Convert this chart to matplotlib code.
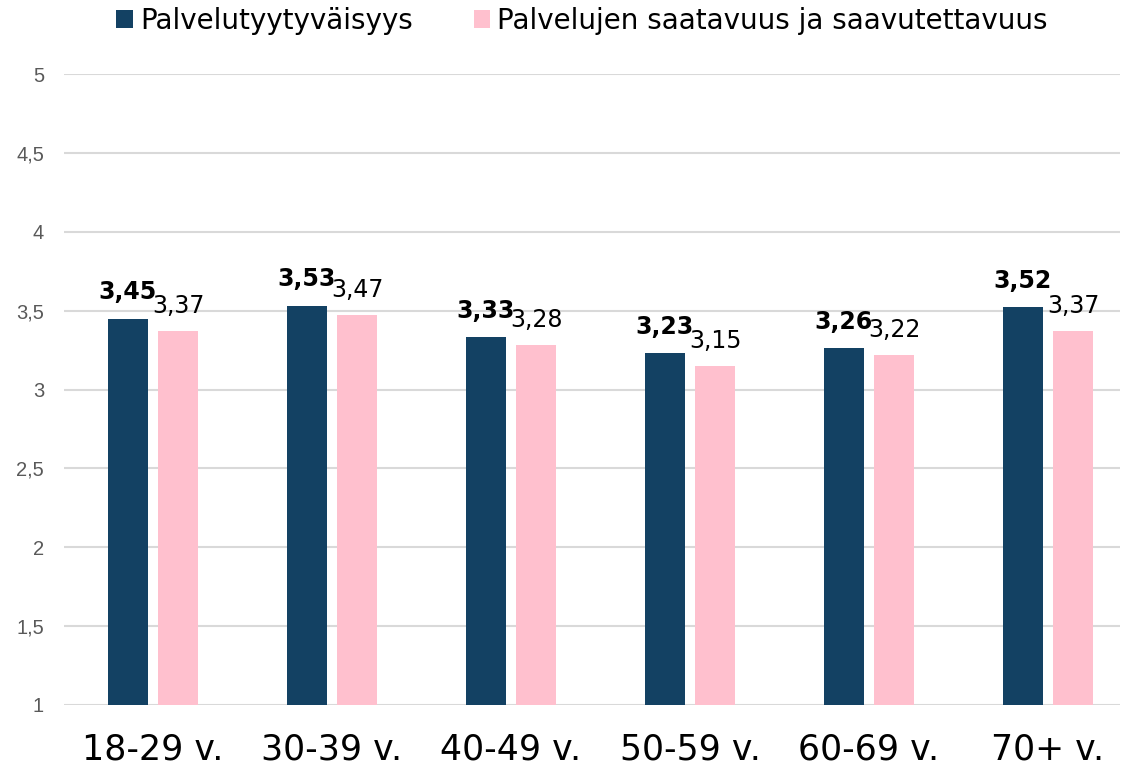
import matplotlib.pyplot as plt
import numpy as np

plt.rcParams['font.family'] = ['DejaVu Sans']

categories = ['18-29 v.', '30-39 v.', '40-49 v.', '50-59 v.', '60-69 v.', '70+ v.']
satisfaction = [3.45, 3.53, 3.33, 3.23, 3.26, 3.52]
availability = [3.37, 3.47, 3.28, 3.15, 3.22, 3.37]
series_names = ['Palvelutyytyväisyys', 'Palvelujen saatavuus ja saavutettavuus']
y_ticks = [1, 1.5, 2, 2.5, 3, 3.5, 4, 4.5, 5]

navy = '#134163'
pink = '#FFC0CE'

fig = plt.figure(figsize=(11.3, 7.7), dpi=100)
ax = fig.add_axes([63.5 / 1130, 65 / 770, (1120 - 63.5) / 1130, (705 - 74) / 770])

x = np.arange(len(categories))
w = 0.223
off = 0.142
b1 = ax.bar(x - off, satisfaction, w, color=navy, zorder=3, label=series_names[0])
b2 = ax.bar(x + off, availability, w, color=pink, zorder=3, label=series_names[1])

for xi, v in zip(x - off, satisfaction):
    ax.annotate(f'{v:.2f}'.replace('.', ','), (xi, v), xytext=(0, 14), textcoords='offset points',
                ha='center', va='baseline', fontsize=17, fontweight='bold', color='black', zorder=4)
for xi, v in zip(x + off, availability):
    ax.annotate(f'{v:.2f}'.replace('.', ','), (xi, v), xytext=(0, 13), textcoords='offset points',
                ha='center', va='baseline', fontsize=17, color='black', zorder=4)

ax.set_ylim(1, 5)
ax.set_xlim(-0.5, (1120 - 153) / 179)
ax.set_yticks(y_ticks)
ax.set_yticklabels([f'{t:g}'.replace('.', ',') for t in y_ticks], fontsize=14.5,
                   color='#595959', family='Liberation Sans')
ax.set_xticks(x)
ax.set_xticklabels(categories, fontsize=25, color='black')
ax.tick_params(axis='both', length=0)
ax.tick_params(axis='y', pad=14)
ax.tick_params(axis='x', pad=20)
ax.grid(axis='y', color='#D9D9D9', linewidth=1.5, zorder=0)
for s in ax.spines.values():
    s.set_visible(False)

fig.legend(handles=[b1, b2], labels=series_names, loc='upper center', bbox_to_anchor=(0.515, 1.024),
           ncol=2, frameon=False, fontsize=20, handlelength=0.6, handleheight=0.6,
           handletextpad=0.25, columnspacing=2.2)

fig.savefig('out.png', dpi=100)
